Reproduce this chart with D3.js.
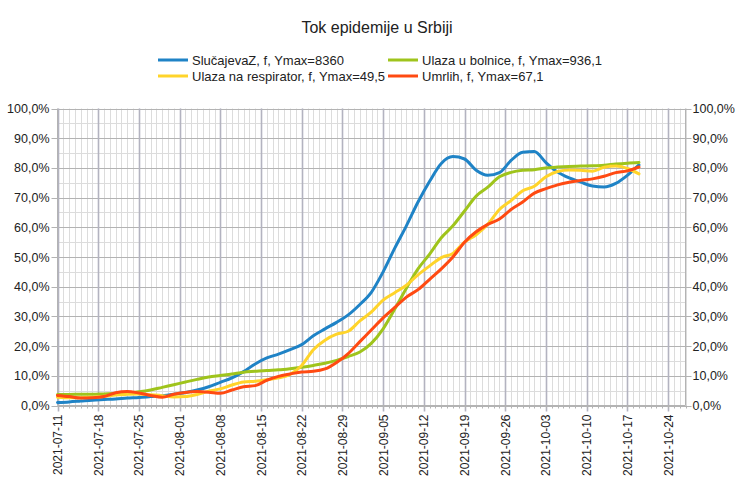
<!DOCTYPE html>
<html><head><meta charset="utf-8">
<script src="https://cdn.jsdelivr.net/npm/d3@7"></script>
<style>body{margin:0;background:#fff}svg{display:block}text{font-family:"Liberation Sans",Arial,sans-serif}</style>
</head><body><svg id="c" width="753" height="487"></svg>
<script>
const title = "Tok epidemije u Srbiji";
const startDate = "2021-07-11";
const stepDays = 2;
const seriesNames = ["SlučajevaZ, f, Ymax=8360", "Ulaza u bolnice, f, Ymax=936,1", "Ulaza na respirator, f, Ymax=49,5", "Umrlih, f, Ymax=67,1"];
const seriesColors = ["#1f83c6", "#9fc41c", "#ffd42a", "#ff4a12"];
const slucajevi = [1.0,1.2,1.5,1.8,2.0,2.2,2.5,2.7,3.0,3.3,3.8,4.4,5.2,6.3,7.8,9.3,11.4,14.0,16.0,17.3,18.8,20.5,23.5,25.8,28.0,30.5,34.0,38.2,45.0,53.0,60.5,68.5,75.5,81.5,83.8,83.0,79.2,77.5,78.4,82.5,85.3,85.5,81.8,78.6,76.6,75.2,73.9,73.6,74.8,77.5,81.0];
const bolnice = [3.7,3.7,3.8,3.8,3.9,4.0,4.2,4.6,5.2,6.1,7.0,7.9,8.8,9.6,10.1,10.6,11.2,11.5,11.8,12.0,12.4,12.9,13.5,14.2,15.2,16.5,18.0,21.0,25.8,32.5,39.5,46.0,51.0,56.5,60.5,65.5,70.5,73.5,77.0,78.5,79.2,79.4,80.0,80.3,80.5,80.6,80.7,80.9,81.3,81.6,81.8];
const respirator = [2.8,2.6,2.6,2.8,3.1,3.5,3.8,3.9,3.6,3.3,2.9,3.0,3.7,4.8,5.6,6.9,7.9,8.2,8.7,9.3,10.5,13.5,18.8,22.0,24.0,25.0,28.5,31.5,35.5,38.0,40.5,44.0,47.0,49.8,51.2,55.0,57.5,61.0,66.0,69.0,72.3,73.8,77.0,78.8,79.3,79.2,78.9,80.2,80.6,79.8,78.0];
const umrlih = [3.4,3.0,2.5,2.6,3.0,4.3,4.7,4.2,3.4,2.8,3.8,4.4,4.7,4.5,4.1,5.2,6.3,6.7,8.5,9.8,10.6,11.3,11.5,12.3,14.5,17.5,21.5,25.5,29.5,33.0,36.5,39.0,42.5,46.0,50.0,55.0,58.5,61.0,62.8,66.0,68.5,71.5,73.0,74.3,75.2,75.8,76.3,77.2,78.4,79.0,80.3];
const xTickLabels = ["2021-07-11","2021-07-18","2021-07-25","2021-08-01","2021-08-08","2021-08-15","2021-08-22","2021-08-29","2021-09-05","2021-09-12","2021-09-19","2021-09-26","2021-10-03","2021-10-10","2021-10-17","2021-10-24"];
const yTicks = [0,10,20,30,40,50,60,70,80,90,100];

const parse = d3.utcParse("%Y-%m-%d");
const t0 = parse(startDate);
const allSeries = [slucajevi, bolnice, respirator, umrlih];
// drawing order: bolnice, respirator, umrlih? keep blue under others as in ref
const svg = d3.select("#c");
const L = 57.5, R = 685.5, T = 108.5, B = 405.5;
const x = d3.scaleUtc().domain([t0, d3.utcDay.offset(t0, 108)]).range([L, R]);
const y = d3.scaleLinear().domain([0, 100]).range([B, T]);
const fmt = v => d3.format(".1f")(v).replace(".", ",") + "%";

svg.append("text").attr("x", 377).attr("y", 33).attr("text-anchor", "middle").attr("font-size", 16).attr("fill", "#222").text(title);

const g = svg.append("g");
// minor vertical grid (daily)
const days = d3.utcDay.range(t0, d3.utcDay.offset(t0, 109));
g.selectAll(".vmin").data(days).join("line")
  .attr("x1", d => Math.round(x(d)) + 0.5).attr("x2", d => Math.round(x(d)) + 0.5)
  .attr("y1", T).attr("y2", B).attr("stroke", "#dcdcdc").attr("stroke-width", 1);
// minor horizontal grid (5%)
g.selectAll(".hmin").data(d3.range(5, 100, 10)).join("line")
  .attr("x1", L).attr("x2", R).attr("y1", d => Math.round(y(d)) + 0.5).attr("y2", d => Math.round(y(d)) + 0.5)
  .attr("stroke", "#dcdcdc");
// major horizontal grid
g.selectAll(".hmaj").data(yTicks).join("line")
  .attr("x1", L - 6).attr("x2", R + 6).attr("y1", d => Math.round(y(d)) + 0.5).attr("y2", d => Math.round(y(d)) + 0.5)
  .attr("stroke", "#b3b3b3");
// major vertical grid (weekly)
const weeks = xTickLabels.map(parse);
g.selectAll(".vmaj").data(weeks).join("line")
  .attr("x1", d => Math.round(x(d)) + 0.5).attr("x2", d => Math.round(x(d)) + 0.5)
  .attr("y1", T).attr("y2", B + 6).attr("stroke", "#b3b3c0").attr("stroke-width", 1.6);
// minor ticks along x axis
g.selectAll(".xmt").data(days).join("line")
  .attr("x1", d => Math.round(x(d)) + 0.5).attr("x2", d => Math.round(x(d)) + 0.5)
  .attr("y1", B).attr("y2", B + 3).attr("stroke", "#b3b3b3");
// axis lines
g.append("line").attr("x1", L).attr("x2", L).attr("y1", T).attr("y2", B).attr("stroke", "#b3b3b3");
g.append("line").attr("x1", R).attr("x2", R).attr("y1", T).attr("y2", B).attr("stroke", "#b3b3b3");
g.append("line").attr("x1", L).attr("x2", R).attr("y1", B).attr("y2", B).attr("stroke", "#b3b3b3");

// y labels
svg.selectAll(".yl").data(yTicks).join("text")
  .attr("x", L - 8).attr("y", d => y(d) + 4.5).attr("text-anchor", "end").attr("font-size", 12.5).attr("fill", "#222").text(fmt);
svg.selectAll(".yr").data(yTicks).join("text")
  .attr("x", R + 7).attr("y", d => y(d) + 4.5).attr("text-anchor", "start").attr("font-size", 12.5).attr("fill", "#222").text(fmt);
// x labels
svg.selectAll(".xl").data(xTickLabels).join("text")
  .attr("transform", d => `translate(${x(parse(d)) + 4.5},${B + 9}) rotate(-90)`)
  .attr("text-anchor", "end").attr("font-size", 12).attr("fill", "#222").text(d => d);

// lines
const line = d3.line().x((d, i) => x(d3.utcDay.offset(t0, i * stepDays))).y(d => y(d)).curve(d3.curveMonotoneX);
const order = [0, 1, 2, 3];
svg.selectAll(".ser").data(order).join("path")
  .attr("d", i => line(allSeries[i])).attr("fill", "none").attr("stroke", i => seriesColors[i])
  .attr("stroke-width", 3).attr("stroke-linejoin", "round").attr("stroke-linecap", "round");

// legend
const legPos = [[158, 60], [388, 60], [158, 76], [388, 76]];
const lg = svg.selectAll(".lg").data(seriesNames).join("g").attr("transform", (d, i) => `translate(${legPos[i][0]},${legPos[i][1]})`);
lg.append("line").attr("x1", 0).attr("x2", 30).attr("y1", 0).attr("y2", 0).attr("stroke", (d, i) => seriesColors[i]).attr("stroke-width", 3);
lg.append("text").attr("x", 34).attr("y", 4.5).attr("font-size", 13).attr("fill", "#222").text(d => d);
</script></body></html>
